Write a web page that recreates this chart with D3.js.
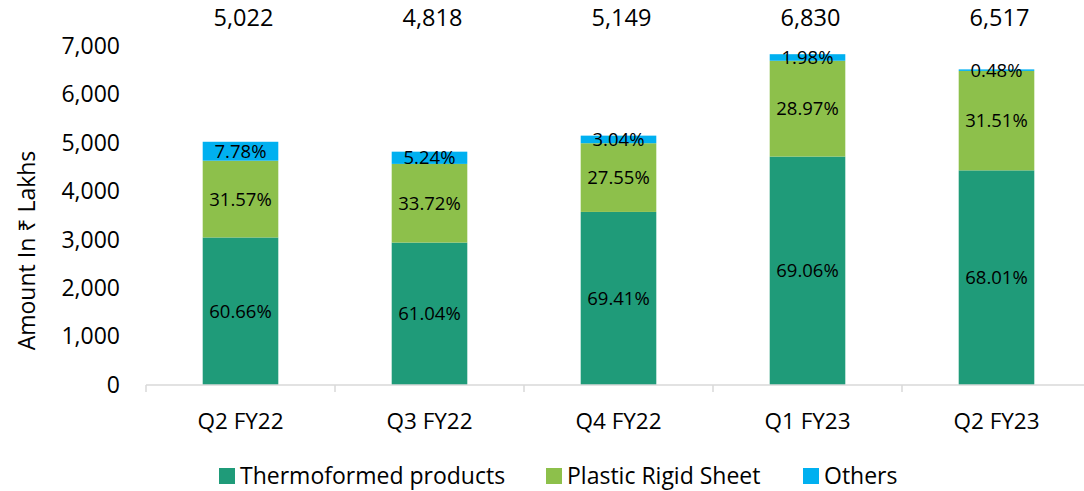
<!DOCTYPE html>
<html>
<head>
<meta charset="utf-8">
<script src="https://cdn.jsdelivr.net/npm/d3@7"></script>
<style>
  html, body { margin: 0; padding: 0; background: #fff; }
  svg { display: block; font-family: "Open Sans", "Noto Sans", sans-serif; }
</style>
</head>
<body>
<svg id="chart" width="1084" height="491"></svg>
<script>
// Quarterly revenue split by segment (₹ Lakhs)
const quarters = ["Q2 FY22", "Q3 FY22", "Q4 FY22", "Q1 FY23", "Q2 FY23"];
const totals = [5022, 4818, 5149, 6830, 6517];
const thermoformedShare = [60.66, 61.04, 69.41, 69.06, 68.01];
const rigidSheetShare = [31.57, 33.72, 27.55, 28.97, 31.51];
const othersShare = [7.78, 5.24, 3.04, 1.98, 0.48];
const seriesNames = ["Thermoformed products", "Plastic Rigid Sheet", "Others"];
const yTicks = [0, 1000, 2000, 3000, 4000, 5000, 6000, 7000];

const colors = ["#1f9b79", "#8dc04b", "#00b0f0"];
const shares = [thermoformedShare, rigidSheetShare, othersShare];

const rows = quarters.map((q, i) => {
  const r = { quarter: q, total: totals[i] };
  seriesNames.forEach((s, k) => {
    r[s] = totals[i] * shares[k][i] / 100;
    r[s + "_pct"] = shares[k][i];
  });
  return r;
});

const svg = d3.select("#chart");
const margin = { left: 146, right: -7, top: 46, bottom: 106 };
const W = 1084, H = 491;

const x = d3.scaleBand()
  .domain(quarters)
  .range([margin.left, W - margin.right])
  .paddingInner(0.6)
  .paddingOuter(0.3);

const y = d3.scaleLinear()
  .domain([0, 7000])
  .range([H - margin.bottom, margin.top]);

const layers = d3.stack().keys(seriesNames)(rows);

// Y axis: labels only
const yAxis = svg.append("g")
  .attr("transform", `translate(${margin.left - 26},0)`)
  .call(d3.axisLeft(y).tickValues(yTicks).tickFormat(d3.format(",")).tickSize(0).tickPadding(0));
yAxis.select(".domain").remove();
yAxis.selectAll("text")
  .attr("font-size", 23)
  .attr("font-family", "'Open Sans', sans-serif")
  .attr("fill", "#000");

// Bars
const layerG = svg.append("g")
  .selectAll("g")
  .data(layers)
  .join("g")
  .attr("fill", (d, i) => colors[i]);

layerG.selectAll("rect")
  .data(d => d)
  .join("rect")
  .attr("x", d => x(d.data.quarter))
  .attr("width", x.bandwidth())
  .attr("y", d => y(d[1]))
  .attr("height", d => y(d[0]) - y(d[1]));

// Segment percentage labels
layers.forEach(layer => {
  svg.append("g")
    .selectAll("text")
    .data(layer)
    .join("text")
    .attr("x", d => x(d.data.quarter) + x.bandwidth() / 2)
    .attr("y", d => (y(d[0]) + y(d[1])) / 2)
    .attr("dy", "0.36em")
    .attr("text-anchor", "middle")
    .attr("font-size", 18.5)
    .attr("fill", "#000")
    .text(d => d.data[layer.key + "_pct"].toFixed(2) + "%");
});

// X axis
const xAxis = svg.append("g").attr("transform", `translate(0,${y(0)})`);
xAxis.append("line")
  .attr("x1", margin.left).attr("x2", W)
  .attr("stroke", "#d9d9d9").attr("stroke-width", 1.5);
const step = x.step();
const boundaries = quarters.map(q => x(q) - x.paddingInner() * step / 2);
xAxis.selectAll("line.tick")
  .data(boundaries)
  .join("line")
  .attr("class", "tick")
  .attr("x1", d => d).attr("x2", d => d)
  .attr("y1", 0).attr("y2", 7)
  .attr("stroke", "#d9d9d9").attr("stroke-width", 1.5);
xAxis.selectAll("text")
  .data(quarters)
  .join("text")
  .attr("x", d => x(d) + x.bandwidth() / 2)
  .attr("y", 44)
  .attr("text-anchor", "middle")
  .attr("font-size", 22.5)
  .attr("fill", "#000")
  .text(d => d);

// Totals across the top
svg.append("g")
  .selectAll("text")
  .data(rows)
  .join("text")
  .attr("x", d => x(d.quarter) + x.bandwidth() / 2 + 3)
  .attr("y", 26)
  .attr("text-anchor", "middle")
  .attr("font-size", 23.5)
  .attr("fill", "#000")
  .text(d => d3.format(",")(d.total));

// Y axis title
svg.append("text")
  .attr("transform", `translate(35,${(y(0) + y(7000)) / 2 + 35}) rotate(-90)`)
  .attr("text-anchor", "middle")
  .attr("font-size", 23)
  .attr("fill", "#000")
  .text("Amount In ₹ Lakhs");

// Legend
const legendItems = [
  { name: seriesNames[0], x: 219 },
  { name: seriesNames[1], x: 546 },
  { name: seriesNames[2], x: 803 }
];
const lg = svg.append("g").attr("transform", "translate(0,476)");
legendItems.forEach((item, i) => {
  lg.append("rect")
    .attr("x", item.x).attr("y", -8)
    .attr("width", 16).attr("height", 16)
    .attr("fill", colors[i]);
  lg.append("text")
    .attr("x", item.x + 21).attr("y", 0)
    .attr("dy", "0.36em")
    .attr("font-size", 23)
    .attr("fill", "#000")
    .text(item.name);
});
</script>
</body>
</html>
